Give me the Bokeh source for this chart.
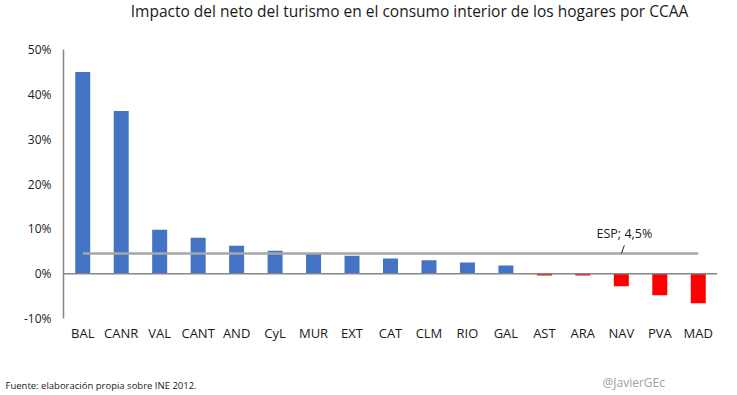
from bokeh.plotting import figure
from bokeh.layouts import column
from bokeh.models import (Range1d, FactorRange, FixedTicker, PrintfTickFormatter, Span)
from bokeh.core.properties import value
from bokeh.embed import file_html
from bokeh.resources import INLINE

categories = ["BAL", "CANR", "VAL", "CANT", "AND", "CyL", "MUR", "EXT", "CAT",
              "CLM", "RIO", "GAL", "AST", "ARA", "NAV", "PVA", "MAD"]
values = [45.0, 36.3, 9.8, 8.0, 6.2, 5.1, 4.5, 4.0, 3.4, 3.0, 2.5, 1.8,
          -0.4, -0.4, -2.8, -4.8, -6.6]
esp_value = 4.5
esp_label = "ESP; 4,5%"
esp_label_at = "NAV"
y_ticks = [-10, 0, 10, 20, 30, 40, 50]
title_text = "Impacto del neto del turismo en el consumo interior de los hogares por CCAA"
source_text = "Fuente: elaboración propia sobre INE 2012."
credit_text = "@JavierGEc"

FONT = "Open Sans"
BLUE = "#4472C4"
RED = "#FF0000"
GRAY = "#868686"
W = 737
HEAD_H, MAIN_H, FOOT_H = 30, 330, 35

colors = [BLUE if v >= 0 else RED for v in values]


def text_strip(height):
    f = figure(width=W, height=height, x_range=Range1d(0, W), y_range=Range1d(height, 0),
               x_axis_type=None, y_axis_type=None, output_backend="svg",
               toolbar_location=None, min_border=0)
    f.outline_line_color = None
    f.grid.grid_line_color = None
    return f


# header with the title
head = text_strip(HEAD_H)
head.text(x=[409], y=[10], text=[title_text], text_align="center",
          text_baseline="middle",
          text_font=value(FONT), text_font_size="15.5px", text_color="#1a1a1a")

# main chart
p = figure(width=W, height=MAIN_H, x_range=FactorRange(*categories, range_padding=0),
           y_range=Range1d(-10, 50), output_backend="svg", toolbar_location=None,
           min_border_left=63, min_border_right=20, min_border_top=19,
           min_border_bottom=42)
p.outline_line_color = None
p.grid.grid_line_color = None
p.title.visible = False

p.vbar(x=categories, top=values, width=0.39, bottom=0, fill_color=colors, line_color=None)

p.add_layout(Span(location=0, dimension="width", line_color=GRAY, line_width=1.5))

p.line(x=categories, y=[esp_value] * len(categories), line_color="#A6A6A6", line_width=2.5)

idx = categories.index(esp_label_at) + 0.5
p.segment(x0=[idx], y0=[esp_value], x1=[idx + 0.08], y1=[esp_value + 1.8],
          line_color="#262626", line_width=1)
p.text(x=[idx + 0.08], y=[esp_value + 1.8], text=[esp_label], text_font_size="12.5px",
       text_align="center", text_baseline="bottom", y_offset=-3,
       text_color="#1a1a1a", text_font=value(FONT))

yax = p.yaxis[0]
yax.ticker = FixedTicker(ticks=y_ticks)
yax.formatter = PrintfTickFormatter(format="%d%%")
yax.axis_line_color = GRAY
yax.axis_line_width = 1.5
yax.major_tick_line_color = None
yax.minor_tick_line_color = None
yax.major_label_standoff = 6
yax.major_label_text_font = FONT
yax.major_label_text_font_size = "12px"
yax.major_label_text_color = "#1a1a1a"

xax = p.xaxis[0]
xax.axis_line_color = None
xax.major_tick_line_color = None
xax.major_label_standoff = -1
xax.major_label_text_font = FONT
xax.major_label_text_font_size = "13px"
xax.major_label_text_color = "#1a1a1a"

# footer with source and credit
foot = text_strip(FOOT_H)
foot.text(x=[5], y=[25], text=[source_text], text_baseline="middle",
          text_font=value(FONT), text_font_size="9.5px", text_color="#1a1a1a")
foot.text(x=[602], y=[22], text=[credit_text], text_baseline="middle",
          text_font=value(FONT), text_font_size="12px", text_color="#A0A0A0")

layout = column(head, column(p, spacing=0), foot, spacing=0)

open("out.html", "w").write(file_html(layout, INLINE))
